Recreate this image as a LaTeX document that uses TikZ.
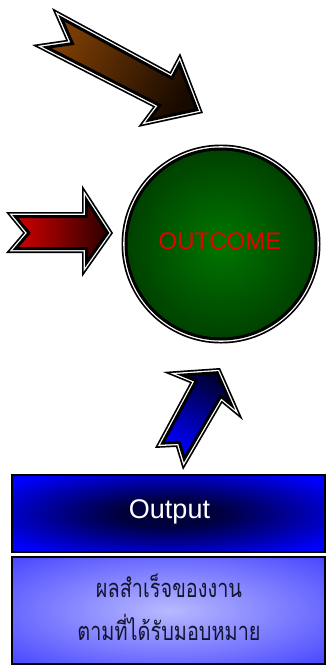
\documentclass[tikz,border=0pt]{standalone}
\usepackage{fontspec}
\setmainfont{Liberation Sans}
\newfontfamily\thaifont[Script=Thai]{Loma}
\definecolor{brownA}{RGB}{125,62,5}
\definecolor{brownB}{RGB}{25,10,0}
\definecolor{redA}{RGB}{210,0,0}
\definecolor{redB}{RGB}{45,0,0}
\definecolor{blueA}{RGB}{0,0,255}
\definecolor{blueB}{RGB}{0,0,55}
\definecolor{greenC}{RGB}{0,118,0}
\definecolor{greenE}{RGB}{0,12,0}
\definecolor{navyC}{RGB}{0,0,60}
\definecolor{lightC}{RGB}{185,185,255}
\definecolor{boxE}{RGB}{25,25,255}
\definecolor{outRed}{RGB}{235,0,0}
\definecolor{thaiText}{RGB}{20,20,50}
\pgfdeclareradialshading{greenball}{\pgfpoint{0bp}{0bp}}{color(0bp)=(greenC); color(50bp)=(greenE); color(100bp)=(greenE)}
\pgfdeclareradialshading{outbox}{\pgfpoint{0bp}{0bp}}{color(0bp)=(navyC); color(8bp)=(navyC); color(32bp)=(blueA); color(100bp)=(blueA)}
\pgfdeclareradialshading{lightbox}{\pgfpoint{0bp}{0bp}}{color(0bp)=(lightC); color(50bp)=(boxE); color(100bp)=(boxE)}
\def\brownpath{(61.4,18.2) -- (171.9,78.1) -- (179.4,63.9) -- (196.9,109.7) -- (148.8,120.1) -- (159.8,105.4) -- (46.6,47.4) -- (72.5,43.6) -- cycle}
\def\redpath{(15.4,216.5) -- (86.5,216.5) -- (86.5,200.3) -- (107.6,232.9) -- (86.5,262.8) -- (86.5,248.5) -- (15.7,248.5) -- (28.9,233) -- cycle}
\def\bluepath{(162.7,443.1) -- (196.3,380.7) -- (182.6,375.1) -- (217.2,372.7) -- (231.3,404.8) -- (220.8,396.2) -- (184.3,458.8) -- (179.3,442.3) -- cycle}
\begin{document}
\begin{tikzpicture}[x=1pt,y=-1pt,
  rimouter/.style={draw=black,line width=9pt,line join=miter},
  rimwhite/.style={draw=white,line width=5.6pt,line join=miter},
  riminner/.style={draw=black,line width=3pt,line join=miter},
  boxstyle/.style={rectangle,draw=black,line width=1.6pt,inner sep=0pt}]
\useasboundingbox (0,0) rectangle (327,667);
% brown arrow
\draw[rimouter] \brownpath;
\draw[rimwhite] \brownpath;
\shade[riminner,left color=brownA,right color=brownB,shading angle=62] \brownpath;
% red arrow
\draw[rimouter] \redpath;
\draw[rimwhite] \redpath;
\shade[riminner,left color=redA,right color=redB] \redpath;
% blue arrow
\draw[rimouter] \bluepath;
\draw[rimwhite] \bluepath;
\shade[riminner,left color=blueA,right color=blueB,shading angle=149] \bluepath;
% outcome circle
\coordinate (oc) at (221,244);
\draw[rimouter] (oc) circle[radius=95pt];
\draw[rimwhite] (oc) circle[radius=95pt];
\node (outcome) [circle,minimum size=190pt,inner sep=0pt,shading=greenball,riminner]
  at (oc) {};
\node (outtext) at (220,241) {\fontsize{24}{28}\selectfont\color{outRed}OUTCOME};
% boxes
\node (output) [boxstyle,minimum width=313pt,minimum height=77pt,shading=outbox]
  at (168.5,513.5) {};
\node (outlabel) at (169.5,512) {\fontsize{27}{30}\selectfont\color{white}Output};
\node (result) [boxstyle,minimum width=313pt,minimum height=107pt,shading=lightbox]
  at (168.5,610.5) {};
\node (line1) [anchor=base,text=thaiText,inner sep=0pt]
  at (169,597) {\scalebox{0.78}[1]{\thaifont\fontsize{25.5}{30}\selectfont ผลสำเร็จของงาน}};
\node (line2) [anchor=base,text=thaiText,inner sep=0pt]
  at (169,640) {\scalebox{0.78}[1]{\thaifont\fontsize{25.5}{30}\selectfont ตามที่ได้รับมอบหมาย}};
\end{tikzpicture}
\end{document}
